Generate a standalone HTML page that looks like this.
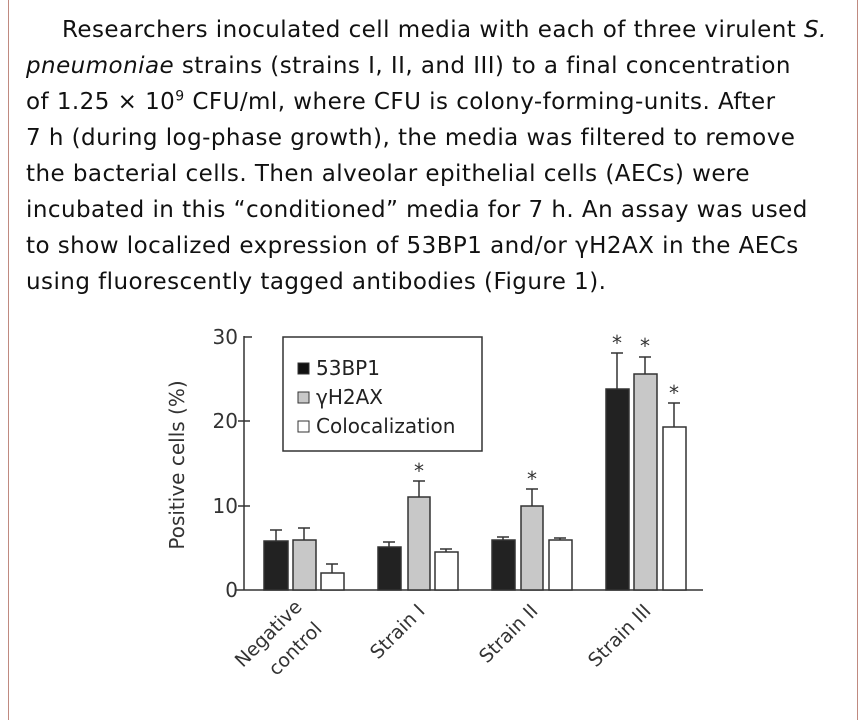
<!DOCTYPE html>
<html><head><meta charset="utf-8"><style>
body{margin:0;width:860px;height:720px;background:#fff;position:relative;overflow:hidden;font-family:"DejaVu Sans","Liberation Sans",sans-serif;}
.bl{position:absolute;left:8px;top:0;width:1px;height:720px;background:#c08a80}
.br{position:absolute;left:857px;top:0;width:1px;height:720px;background:#c08a80}
.t{position:absolute;left:26px;top:12px;font-size:23px;line-height:36px;color:#111;white-space:nowrap;letter-spacing:0.45px}
</style></head><body>
<div class="bl"></div><div class="br"></div>
<div class="t"><span style="display:inline-block;width:36px"></span>Researchers inoculated cell media with each of three virulent <i>S.</i><br>
<i>pneumoniae</i> strains (strains I, II, and III) to a final concentration<br>
of 1.25 × 10<sup style="font-size:14px;line-height:0">9</sup> CFU/ml, where CFU is colony-forming-units. After<br>
7 h (during log-phase growth), the media was filtered to remove<br>
the bacterial cells. Then alveolar epithelial cells (AECs) were<br>
incubated in this “conditioned” media for 7 h. An assay was used<br>
to show localized expression of 53BP1 and/or γH2AX in the AECs<br>
using fluorescently tagged antibodies (Figure 1).</div>
<svg width="860" height="720" style="position:absolute;left:0;top:0" font-family="DejaVu Sans, Liberation Sans, sans-serif">
<g stroke="#333" stroke-width="1.5" fill="none">
<line x1="244" y1="336" x2="244" y2="590"/>
<line x1="236" y1="590" x2="703" y2="590"/>
<line x1="244" y1="337" x2="252" y2="337"/>
<line x1="238" y1="421" x2="250" y2="421"/>
<line x1="238" y1="506" x2="250" y2="506"/>
</g>
<g font-size="20" fill="#333" text-anchor="end">
<text x="238" y="344">30</text><text x="238" y="428">20</text><text x="238" y="513">10</text><text x="238" y="597">0</text>
</g>
<text transform="translate(184,465) rotate(-90)" text-anchor="middle" font-size="20" fill="#333">Positive cells (%)</text>
<rect x="283" y="337" width="199" height="114" fill="#fff" stroke="#333" stroke-width="1.5"/>
<rect x="298" y="363" width="11" height="11" fill="#111" stroke="#333"/>
<rect x="298" y="392" width="11" height="11" fill="#c8c8c8" stroke="#333"/>
<rect x="298" y="421" width="11" height="11" fill="#fff" stroke="#333"/>
<g font-size="20" fill="#222">
<text x="316" y="375">53BP1</text><text x="316" y="404">γH2AX</text><text x="316" y="433">Colocalization</text>
</g>
<g stroke="#333" stroke-width="1.5">
<rect x="264" y="541" width="24" height="49" fill="#222"/>
<rect x="293" y="540" width="23" height="50" fill="#c8c8c8"/>
<rect x="321" y="573" width="23" height="17" fill="#fff"/>
<rect x="378" y="547" width="23" height="43" fill="#222"/>
<rect x="408" y="497" width="22" height="93" fill="#c8c8c8"/>
<rect x="435" y="552" width="23" height="38" fill="#fff"/>
<rect x="492" y="540" width="23" height="50" fill="#222"/>
<rect x="521" y="506" width="22" height="84" fill="#c8c8c8"/>
<rect x="549" y="540" width="23" height="50" fill="#fff"/>
<rect x="606" y="389" width="23" height="201" fill="#222"/>
<rect x="634" y="374" width="23" height="216" fill="#c8c8c8"/>
<rect x="663" y="427" width="23" height="163" fill="#fff"/>
</g>
<g stroke="#333" stroke-width="1.5" fill="none">
<path d="M276 541V530M270 530H282"/>
<path d="M304 540V528M298 528H310"/>
<path d="M332 573V564M326 564H338"/>
<path d="M389 547V542M383 542H395"/>
<path d="M419 497V481M413 481H425"/>
<path d="M446 552V549M440 549H452"/>
<path d="M503 540V537M497 537H509"/>
<path d="M532 506V489M526 489H538"/>
<path d="M560 540V538M554 538H566"/>
<path d="M617 389V353M611 353H623"/>
<path d="M645 374V357M639 357H651"/>
<path d="M674 427V403M668 403H680"/>
</g>
<g font-size="20" fill="#333" text-anchor="middle">
<text x="419" y="478">*</text><text x="532" y="486">*</text>
<text x="617" y="350">*</text><text x="645" y="353">*</text><text x="674" y="400">*</text>
</g>
<g font-size="19" fill="#333" text-anchor="end">
<text transform="translate(303,608) rotate(-45)">Negative</text>
<text transform="translate(323,630) rotate(-45)">control</text>
<text transform="translate(426,612) rotate(-45)">Strain I</text>
<text transform="translate(539,612) rotate(-45)">Strain II</text>
<text transform="translate(652,612) rotate(-45)">Strain III</text>
</g>
</svg>
</body></html>
